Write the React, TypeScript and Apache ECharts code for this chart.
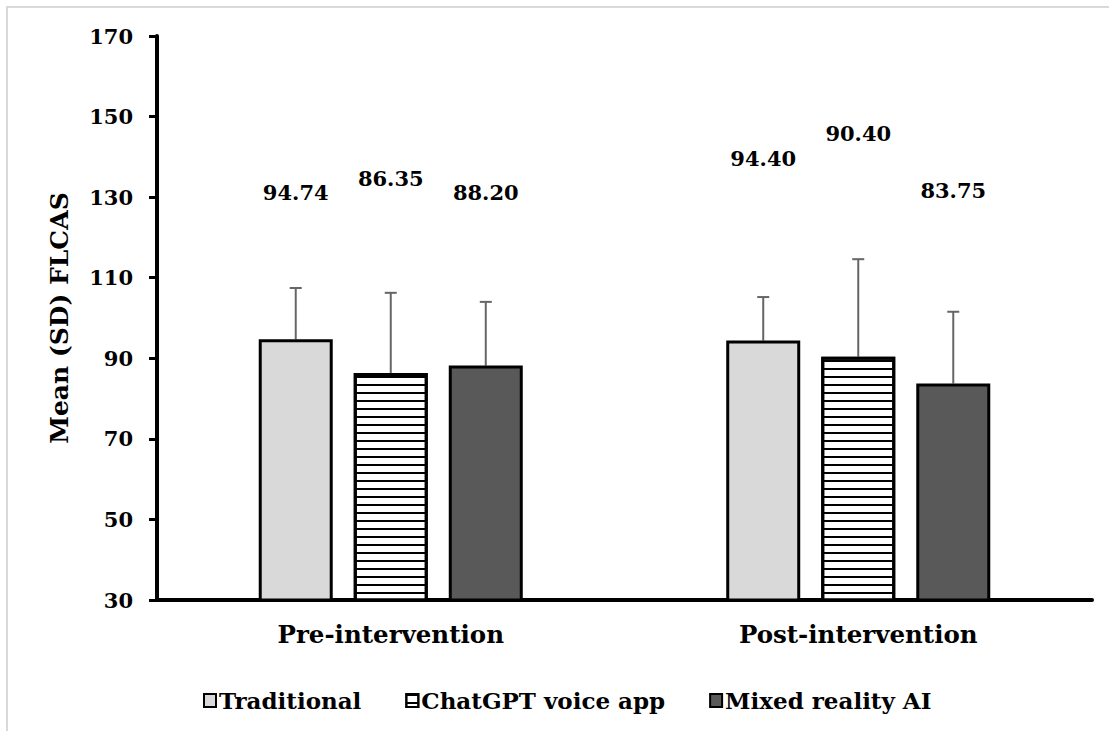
import React, { useEffect, useRef } from "react";
import * as echarts from "echarts";

// Groups on the x axis
const phases = ["Pre-intervention", "Post-intervention"];
// Teaching conditions (one bar series each)
const groups = ["Traditional", "ChatGPT voice app", "Mixed reality AI"];
// Mean FLCAS per condition, [pre, post]
const traditionalMean = [94.74, 94.4];
const chatgptMean = [86.35, 90.4];
const mixedMean = [88.2, 83.75];
// Standard deviations, [pre, post]
const traditionalSD = [12.7, 10.8];
const chatgptSD = [19.9, 24.2];
const mixedSD = [15.8, 17.8];
// Y axis range
const yMin = 30;
const yMax = 170;
const yStep = 20;

// Vertical lift of each value label above its bar (px), [pre, post]
const labelLift = [
  [-136, -172],
  [-184, -213],
  [-163, -182],
];

const FONT = "DejaVu Serif";
const BAR_PX = 74; // bar width in px
const BAR_GAP = 0.284; // gap as share of bar width
const STEP_PX = BAR_PX * (1 + BAR_GAP);

export default function App() {
  const ref = useRef<HTMLDivElement>(null);

  useEffect(() => {
    document.body.style.margin = "0";
    if (!ref.current) return;
    const chart = echarts.init(ref.current, undefined, { renderer: "svg" });

    const means = [traditionalMean, chatgptMean, mixedMean];
    const sds = [traditionalSD, chatgptSD, mixedSD];
    const fills = ["#d9d9d9", "#ffffff", "#595959"];

    const barSeries = groups.map((name, k) => ({
      name,
      type: "bar",
      barWidth: BAR_PX,
      barGap: `${BAR_GAP * 100}%`,
      z: 3,
      itemStyle: {
        color: fills[k],
        borderColor: "#000",
        borderWidth: 3,
        ...(k === 1
          ? {
              decal: {
                symbol: "rect",
                symbolSize: 1,
                color: "#000",
                dashArrayX: [8, 0],
                dashArrayY: [2, 6],
                rotation: 0,
              },
            }
          : {}),
      },
      label: {
        show: true,
        position: "top",
        distance: 0,
        fontFamily: FONT,
        fontWeight: "bold",
        fontSize: 21,
        color: "#000",
        formatter: (p: any) => Number(p.value).toFixed(2),
      },
      data: means[k].map((v, i) => ({
        value: v,
        label: { offset: [0, labelLift[k][i]] },
      })),
    }));

    const errData: number[][] = [];
    groups.forEach((_, k) =>
      phases.forEach((__, i) => errData.push([i, means[k][i], sds[k][i], k]))
    );

    // Upper-only SD whiskers, shifted onto each bar of the cluster
    const errorSeries = {
      type: "custom",
      z: 2,
      silent: true,
      renderItem: (_params: any, api: any) => {
        const c = api.value(0);
        const m = api.value(1);
        const sd = api.value(2);
        const k = api.value(3);
        const base = api.coord([c, m]);
        const top = api.coord([c, m + sd]);
        const x = base[0] + (k - 1) * STEP_PX;
        const style = { stroke: "#666666", lineWidth: 2 };
        return {
          type: "group",
          children: [
            { type: "line", shape: { x1: x, y1: base[1], x2: x, y2: top[1] }, style },
            { type: "line", shape: { x1: x - 6, y1: top[1], x2: x + 6, y2: top[1] }, style },
          ],
        };
      },
      encode: { x: 0, y: 1 },
      data: errData,
    };

    chart.setOption({
      animation: false,
      backgroundColor: "#ffffff",
      textStyle: { fontFamily: FONT },
      graphic: [
        {
          type: "rect",
          shape: { x: 7, y: 7, width: 1300, height: 1000 },
          style: { fill: "none", stroke: "#d9d9d9", lineWidth: 2 },
          silent: true,
        },
      ],
      grid: { left: 157, right: 17, top: 36, bottom: 131 },
      legend: {
        left: 198,
        top: 684,
        itemWidth: 12,
        itemHeight: 13,
        itemGap: 44,
        icon: "rect",
        itemStyle: { borderWidth: 2, borderColor: "#000" },
        textStyle: {
          fontFamily: FONT,
          fontWeight: "bold",
          fontSize: 23,
          color: "#000",
          padding: [0, 0, 0, -2],
        },
        data: groups,
      },
      xAxis: {
        type: "category",
        data: phases,
        axisLine: { lineStyle: { color: "#000", width: 4 } },
        axisTick: { show: false },
        axisLabel: {
          fontFamily: FONT,
          fontWeight: "bold",
          fontSize: 24.5,
          color: "#000",
          margin: 22,
        },
      },
      yAxis: {
        type: "value",
        min: yMin,
        max: yMax,
        interval: yStep,
        name: "Mean (SD) FLCAS",
        nameLocation: "middle",
        nameGap: 85,
        nameTextStyle: { fontFamily: FONT, fontWeight: "bold", fontSize: 25, color: "#000" },
        axisLine: { show: true, lineStyle: { color: "#000", width: 4 } },
        axisTick: { show: true, length: 8, lineStyle: { color: "#000", width: 3 } },
        splitLine: { show: false },
        axisLabel: {
          fontFamily: FONT,
          fontWeight: "bold",
          fontSize: 21,
          color: "#000",
          margin: 24,
        },
      },
      series: [...barSeries, errorSeries],
    });

    return () => chart.dispose();
  }, []);

  return <div ref={ref} style={{ width: 1109, height: 731 }} />;
}
